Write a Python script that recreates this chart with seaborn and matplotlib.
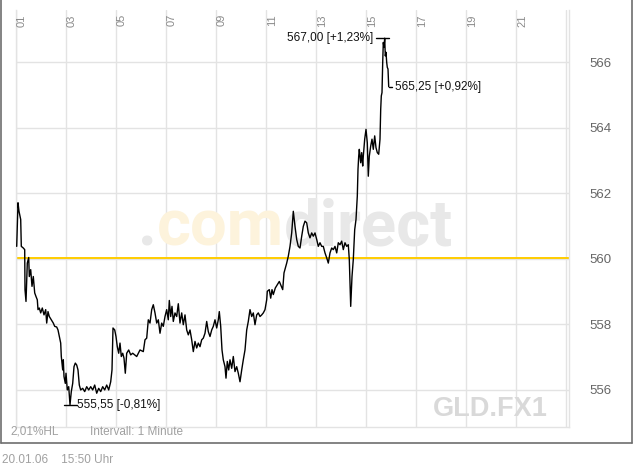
import matplotlib
matplotlib.use("Agg")
import matplotlib.pyplot as plt
import seaborn as sns
from matplotlib.lines import Line2D

# intraday quotes, hour of day vs price
hours = [
    1.028, 1.08, 1.12, 1.188, 1.212, 1.292, 1.348, 1.36, 1.40, 1.452,
    1.508, 1.532, 1.588, 1.64, 1.692, 1.748, 1.80, 1.852, 1.88, 1.932,
    1.988, 2.052, 2.12, 2.188, 2.228, 2.28, 2.332, 2.412, 2.492, 2.548,
    2.628, 2.68, 2.732, 2.788, 2.812, 2.868, 2.892, 2.92, 2.972, 3.00,
    3.052, 3.108, 3.16, 3.212, 3.268, 3.32, 3.372, 3.428, 3.48, 3.532,
    3.588, 3.668, 3.748, 3.828, 3.908, 3.988, 4.068, 4.148, 4.228, 4.308,
    4.388, 4.468, 4.548, 4.628, 4.708, 4.788, 4.84, 4.88, 4.948, 5.00,
    5.052, 5.108, 5.16, 5.212, 5.268, 5.32, 5.372, 5.428, 5.508, 5.588,
    5.668, 5.828, 5.96, 6.092, 6.16, 6.228, 6.292, 6.36, 6.428, 6.492,
    6.56, 6.628, 6.692, 6.76, 6.828, 6.892, 6.96, 7.028, 7.092, 7.132,
    7.188, 7.24, 7.292, 7.36, 7.428, 7.492, 7.56, 7.628, 7.692, 7.76,
    7.828, 7.892, 7.96, 8.028, 8.092, 8.16, 8.228, 8.292, 8.36, 8.428,
    8.492, 8.56, 8.628, 8.692, 8.76, 8.828, 8.892, 8.96, 9.028, 9.092,
    9.132, 9.188, 9.24, 9.292, 9.36, 9.40, 9.452, 9.508, 9.56, 9.628,
    9.692, 9.76, 9.828, 9.892, 9.96, 10.028, 10.092, 10.16, 10.228, 10.292,
    10.36, 10.428, 10.492, 10.56, 10.628, 10.692, 10.76, 10.828, 10.892, 10.96,
    11.028, 11.052, 11.132, 11.188, 11.24, 11.292, 11.372, 11.452, 11.532, 11.56,
    11.668, 11.72, 11.828, 11.892, 11.96, 12.028, 12.092, 12.16, 12.228, 12.292,
    12.36, 12.428, 12.492, 12.56, 12.628, 12.692, 12.76, 12.828, 12.892, 12.96,
    13.028, 13.092, 13.16, 13.228, 13.292, 13.36, 13.428, 13.492, 13.56, 13.628,
    13.692, 13.76, 13.828, 13.892, 13.96, 14.028, 14.092, 14.16, 14.228, 14.292,
    14.332, 14.388, 14.44, 14.492, 14.548, 14.60, 14.652, 14.68, 14.708, 14.732,
    14.788, 14.828, 14.868, 14.892, 14.948, 15.00, 15.052, 15.092, 15.132, 15.188,
    15.24, 15.292, 15.348, 15.40, 15.452, 15.508, 15.56, 15.588, 15.612, 15.64,
    15.668, 15.692, 15.72, 15.748, 15.772, 15.80, 15.828, 15.852, 15.88, 15.908,
]
prices = [
    560.38, 561.71, 561.45, 561.20, 560.38, 560.33, 560.28, 559.06, 558.70, 559.87,
    560.04, 559.46, 559.67, 559.16, 559.46, 558.96, 558.85, 558.75, 558.45, 558.50,
    558.35, 558.50, 558.29, 558.45, 558.04, 558.39, 558.24, 558.14, 558.04, 557.94,
    557.92, 557.83, 557.63, 557.43, 557.02, 556.61, 556.92, 556.41, 556.20, 556.51,
    556.00, 556.10, 555.55, 555.95, 556.20, 556.71, 556.82, 556.76, 556.61, 556.15,
    556.00, 556.05, 555.95, 556.10, 556.00, 556.10, 556.00, 556.15, 555.90, 556.05,
    555.95, 556.10, 556.00, 556.15, 556.00, 556.25, 556.61, 557.89, 557.83, 557.63,
    557.32, 557.12, 557.43, 557.02, 557.12, 556.97, 556.51, 557.12, 557.22, 557.07,
    557.12, 557.02, 557.22, 557.17, 557.53, 557.58, 558.14, 558.04, 558.45, 558.60,
    558.35, 558.04, 558.14, 557.73, 558.04, 557.94, 558.24, 558.45, 558.14, 558.73,
    558.24, 558.55, 558.09, 558.35, 558.24, 558.63, 558.04, 558.35, 557.99, 558.29,
    557.83, 557.68, 557.83, 557.53, 557.17, 557.48, 557.28, 557.43, 557.32, 557.53,
    557.58, 557.73, 558.09, 557.78, 557.63, 557.83, 557.94, 558.14, 557.89, 558.14,
    558.39, 557.94, 557.22, 556.92, 556.71, 556.36, 556.87, 556.61, 556.92, 556.66,
    557.02, 556.56, 556.71, 556.51, 556.25, 556.61, 556.92, 557.22, 557.83, 558.09,
    558.45, 558.24, 558.35, 557.99, 558.29, 558.35, 558.24, 558.29, 558.35, 558.45,
    558.75, 559.01, 559.06, 558.80, 559.06, 558.91, 559.11, 559.21, 559.31, 559.26,
    559.06, 559.57, 559.87, 560.08, 560.38, 560.79, 561.45, 560.99, 560.59, 560.38,
    560.33, 560.69, 560.99, 561.15, 561.10, 560.79, 560.64, 560.79, 560.69, 560.79,
    560.59, 560.38, 560.49, 560.38, 560.38, 560.18, 560.03, 559.87, 560.18, 560.33,
    560.28, 560.38, 560.18, 560.49, 560.43, 560.54, 560.28, 560.49, 560.38, 560.43,
    559.98, 558.55, 559.46, 559.98, 560.89, 561.20, 561.91, 562.73, 563.13, 563.34,
    562.93, 563.24, 562.83, 563.13, 563.65, 563.95, 563.54, 562.52, 563.13, 563.44,
    563.65, 563.34, 563.75, 563.39, 563.24, 563.19, 563.65, 564.56, 564.97, 565.07,
    565.99, 566.60, 566.45, 566.73, 566.19, 566.30, 565.99, 565.84, 565.79, 565.25,
]

prev_close = 560.02
hour_ticks = [1, 3, 5, 7, 9, 11, 13, 15, 17, 19, 21]
hour_labels = ["01", "03", "05", "07", "09", "11", "13", "15", "17", "19", "21"]
price_ticks = [556, 558, 560, 562, 564, 566]
high_label = "567,00 [+1,23%]"
low_label = "555,55 [-0,81%]"
last_label = "565,25 [+0,92%]"

sns.set_style("white")
plt.rcParams["font.family"] = ["Liberation Sans", "DejaVu Sans"]

W, H = 634, 466
fig = plt.figure(figsize=(W / 100, H / 100), dpi=100)
ax = fig.add_axes([16 / W, 1 - 427 / H, 553 / W, 417 / H])

grid_col = "#e3e3e3"
ax.set_xlim(1, 23.12)
ax.set_ylim(554.87, 567.59)
for h in hour_ticks + [23]:
    ax.axvline(h, color=grid_col, lw=1, zorder=0)
for p in price_ticks:
    ax.axhline(p, color=grid_col, lw=1, zorder=0)

# watermark: gray dot, yellow "com", gray "direct"
wm_x = (284 - 16) / 553
wm_y = (427 - 245) / 417
wm_kw = dict(transform=ax.transAxes, va="baseline", fontsize=47,
             fontweight="bold", family="Roboto", zorder=0)
com = ax.text(wm_x, wm_y, "com", ha="right", color="#fdf3dc", **wm_kw)
ax.text(wm_x, wm_y, "direct", ha="left", color="#e8e8e8", **wm_kw)
renderer = fig.canvas.get_renderer()
com_left = ax.transAxes.inverted().transform(
    (com.get_window_extent(renderer).x0, 0))[0]
ax.text(com_left, wm_y, ".", ha="right", color="#e8e8e8", **wm_kw)
ax.text((548 - 16) / 553, (427 - 416) / 417, "GLD.FX1", transform=ax.transAxes,
        ha="right", va="baseline", fontsize=19.5, fontweight="bold",
        color="#d9d9d9", zorder=0)

ax.axhline(prev_close, color="#ffcc00", lw=1.4, zorder=2)
sns.lineplot(x=hours, y=prices, ax=ax, color="black", lw=1.0,
             estimator=None, sort=False, zorder=3)

# high / low / last markers
i_hi = prices.index(max(prices))
i_lo = prices.index(min(prices))
ax.plot([hours[i_hi] - 0.35, hours[i_hi] + 0.18], [prices[i_hi]] * 2, color="black", lw=1)
ax.text(hours[i_hi] - 0.45, prices[i_hi], high_label, ha="right", va="center",
        fontsize=8.5, color="#111111")
ax.plot([hours[i_lo] - 0.24, hours[i_lo] + 0.26], [prices[i_lo]] * 2, color="black", lw=1)
ax.text(hours[i_lo] + 0.28, prices[i_lo], low_label, ha="left", va="center",
        fontsize=8.5, color="#111111")
ax.plot([hours[-1], hours[-1] + 0.14], [prices[-1]] * 2, color="black", lw=1)
ax.text(hours[-1] + 0.26, prices[-1], last_label, ha="left", va="center",
        fontsize=8.5, color="#111111")

# hour labels inside top of plot
for h, lab in zip(hour_ticks, hour_labels):
    ax.text(h + 0.24, 0.99, lab, transform=ax.get_xaxis_transform(), rotation=90,
            ha="center", va="top", fontsize=8, color="#8a8a8a")

ax.set_xticks([])
ax.yaxis.tick_right()
ax.set_yticks(price_ticks)
ax.set_yticklabels([str(p) for p in price_ticks])
ax.tick_params(axis="y", length=0, pad=15, labelsize=9.5, labelcolor="#666666")
ax.set_xlabel("")
ax.set_ylabel("")
for side in ["left", "right", "bottom"]:
    ax.spines[side].set_color(grid_col)
    ax.spines[side].set_linewidth(1)
ax.spines["top"].set_visible(False)

# outer frame
frame_col = "#6e6e6e"
fig.add_artist(Line2D([0.5 / W, 0.5 / W], [1, 1 - 443 / H], color=frame_col, lw=1.2))
fig.add_artist(Line2D([632 / W, 632 / W], [1, 1 - 443 / H], color=frame_col, lw=1.2))
fig.add_artist(Line2D([0.5 / W, 632 / W], [1 - 443 / H] * 2, color=frame_col, lw=1.2))

fig.text(10 / W, 1 - 432 / H, "2,01%HL", ha="left", va="center", fontsize=8.5, color="#a0a0a0")
fig.text(90 / W, 1 - 432 / H, "Intervall: 1 Minute", ha="left", va="center",
         fontsize=8.5, color="#a0a0a0")
fig.text(2 / W, 1 - 460 / H, "20.01.06    15:50 Uhr", ha="left", va="center",
         fontsize=8.5, color="#a0a0a0")

fig.savefig("out.png", dpi=100)
